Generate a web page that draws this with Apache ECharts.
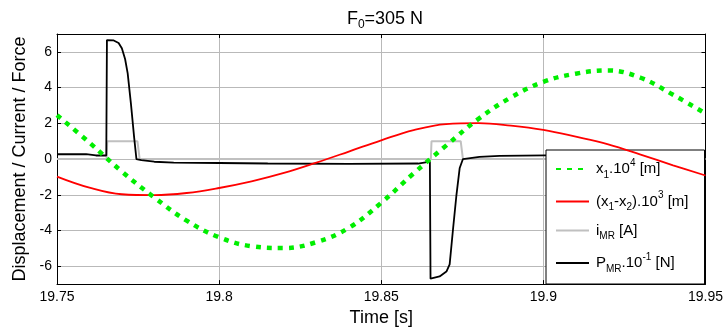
<!DOCTYPE html>
<html>
<head>
<meta charset="utf-8">
<script src="https://cdn.jsdelivr.net/npm/echarts@6/dist/echarts.min.js"></script>
<style>html,body{margin:0;padding:0;background:#fff;}#c{width:726px;height:332px;}</style>
</head>
<body>
<div id="c"></div>
<script>
// time samples for the smooth curves
const tGrid = [19.75,19.76,19.77,19.78,19.79,19.80,19.81,19.82,19.83,19.84,19.85,19.86,19.87,19.88,19.89,19.90,19.91,19.92,19.93,19.94,19.95];
// x1 * 10^4 [m]
const x1 = [2.46,0.92,-0.70,-2.15,-3.45,-4.38,-4.88,-4.98,-4.65,-3.85,-2.45,-0.80,0.75,2.25,3.45,4.32,4.78,4.96,4.55,3.60,2.55];
// (x1 - x2) * 10^3 [m]
const relDisp = [-0.98,-1.60,-1.97,-2.02,-1.90,-1.62,-1.25,-0.78,-0.20,0.42,1.05,1.62,1.96,2.01,1.87,1.63,1.25,0.82,0.25,-0.35,-0.92];
// i_MR [A]
const iT  = [19.75,19.7653,19.7655,19.7748,19.7755,19.8653,19.8655,19.8745,19.8752,19.95];
const iMR = [0,0,1.0,1.0,0,0,1.0,1.0,0,0];
// P_MR * 10^-1 [N]
const pT  = [19.75,19.759,19.762,19.7652,19.7654,19.7675,19.769,19.770,19.771,19.7718,19.7728,19.7738,19.7745,19.776,19.780,19.786,19.800,19.815,19.840,19.8614,19.8650,19.8652,19.868,19.8701,19.8711,19.8721,19.8732,19.8742,19.8752,19.8803,19.8865,19.9009,19.95];
const PMR = [0.27,0.27,0.20,0.20,6.66,6.64,6.50,6.20,5.60,4.80,3.10,1.20,0.00,-0.06,-0.15,-0.20,-0.22,-0.25,-0.27,-0.25,-0.15,-6.70,-6.57,-6.30,-5.90,-4.00,-2.00,-0.50,0.00,0.12,0.18,0.21,0.24];
// axis ticks
const yTicks = [-6,-4,-2,0,2,4,6];

const FF = '"Liberation Sans", Arial, sans-serif';
const chart = echarts.init(document.getElementById('c'), null, {renderer:'canvas'});
const pair = (xs, ys) => xs.map((x,i)=>[x, ys[i]]);
const rich = {
  n:  {fontFamily:FF, fontSize:15, fontWeight:'normal', color:'#000', lineHeight:22},
  sb: {fontFamily:FF, fontSize:10, fontWeight:'normal', color:'#000', verticalAlign:'bottom', lineHeight:10, padding:[6,0,0,0]},
  sp: {fontFamily:FF, fontSize:10, fontWeight:'normal', color:'#000', verticalAlign:'top', lineHeight:10, padding:[0,0,6,0]}
};
const titleRich = {
  n:  {fontFamily:FF, fontSize:18, fontWeight:'normal', color:'#000', lineHeight:24},
  sb: {fontFamily:FF, fontSize:12, fontWeight:'normal', color:'#000', verticalAlign:'bottom', lineHeight:12, padding:[8,0,0,0]}
};
const legendText = {
  x1:  '{n|x}{sb|1}{n|.10}{sp|4}{n| [m]}',
  rel: '{n|(x}{sb|1}{n|-x}{sb|2}{n|).10}{sp|3}{n| [m]}',
  iMR: '{n|i}{sb|MR}{n| [A]}',
  PMR: '{n|P}{sb|MR}{n|.10}{sp|-1}{n| [N]}'
};
const yAxisCommon = {
  type:'value', min:-7, max:7,
  axisLine:{show:true, onZero:false, lineStyle:{color:'#000', width:1}},
  axisTick:{show:true, inside:true, length:4, customValues:yTicks, lineStyle:{color:'#000'}},
  splitLine:{show:false}
};
const xAxisCommon = {
  type:'value', min:19.75, max:19.95, interval:0.05,
  axisLine:{show:true, onZero:false, lineStyle:{color:'#000', width:1}},
  axisTick:{show:true, inside:true, length:4, lineStyle:{color:'#000'}},
  splitLine:{show:false}
};
const option = {
  animation:false,
  backgroundColor:'#fff',
  title:{
    text:'{n|F}{sb|0}{n|=305 N}',
    left:380, top:2, textAlign:'center',
    textStyle:{fontWeight:'normal', rich:titleRich}
  },
  grid:{left:57, right:20, top:34, bottom:44, containLabel:false},
  legend:{
    orient:'vertical', left:546, top:150,
    data:['x1','rel','iMR','PMR'],
    formatter:n=>legendText[n],
    itemWidth:33, itemHeight:14, itemGap:10.5,
    padding:[8,16,10,9],
    backgroundColor:'#fff', borderColor:'#000', borderWidth:1, borderRadius:0,
    itemStyle:{color:'rgba(0,0,0,0)', borderColor:'rgba(0,0,0,0)', borderWidth:0, opacity:0},
    textStyle:{rich:rich, padding:[0,0,0,2]},
    selectedMode:false
  },
  xAxis:[
    Object.assign({}, xAxisCommon, {
      position:'bottom',
      axisLabel:{show:true, fontFamily:FF, fontSize:14, color:'#000', margin:6,
        formatter:v=>String(+(+v).toFixed(2))},
      splitLine:{show:true, lineStyle:{color:'#b9b9b9', width:1}},
      name:'Time [s]', nameLocation:'middle', nameGap:21,
      nameTextStyle:{fontFamily:FF, fontSize:18, color:'#000'}
    }),
    Object.assign({}, xAxisCommon, {position:'top', axisLabel:{show:false}})
  ],
  yAxis:[
    Object.assign({}, yAxisCommon, {
      position:'left',
      axisLabel:{show:true, customValues:yTicks, fontFamily:FF, fontSize:14, color:'#000', margin:5},
      splitLine:{show:true, lineStyle:{color:'#b9b9b9', width:1}},
      name:'Displacement / Current / Force', nameLocation:'middle', nameGap:26,
      nameTextStyle:{fontFamily:FF, fontSize:18, color:'#000'}
    }),
    Object.assign({}, yAxisCommon, {position:'right', axisLabel:{show:false}})
  ],
  series:[
    {name:'iMR', type:'line', data:pair(iT,iMR), symbol:'none', z:2,
     lineStyle:{color:'#c0c0c0', width:2}, itemStyle:{color:'#c0c0c0'}},
    {name:'PMR', type:'line', data:pair(pT,PMR), symbol:'none', z:3, smooth:false,
     lineStyle:{color:'#000', width:1.8}, itemStyle:{color:'#000'}},
    {name:'rel', type:'line', data:pair(tGrid,relDisp), symbol:'none', z:4, smooth:0.4,
     lineStyle:{color:'#ff0000', width:1.8}, itemStyle:{color:'#ff0000'}},
    {name:'x1', type:'line', data:pair(tGrid,x1), symbol:'none', z:5, smooth:0.4,
     lineStyle:{color:'#00ee00', width:4.5, type:[5,6], cap:'butt'}, itemStyle:{color:'#00ee00'}}
  ]
};
chart.setOption(option);
</script>
</body>
</html>
